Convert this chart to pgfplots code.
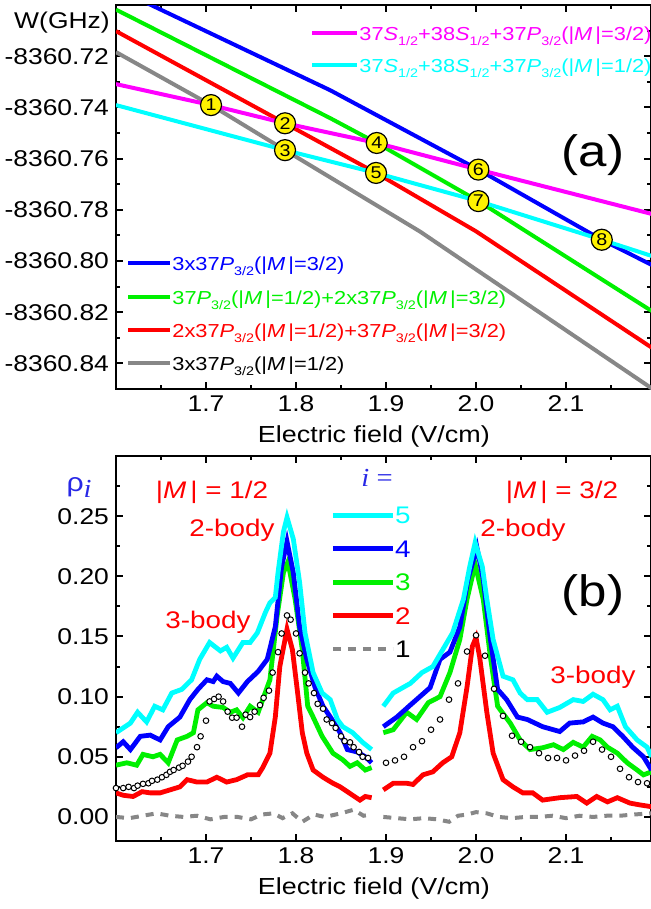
\documentclass[border=0pt]{standalone}
\usepackage{fontspec}
\setmainfont{Liberation Sans}[FakeStretch=1.16]
\newfontfamily\serif{Liberation Serif}[FakeStretch=1.1]
\usepackage{pgfplots}
\pgfplotsset{compat=1.18}

\definecolor{cMag}{RGB}{255,0,255}
\definecolor{cCya}{RGB}{0,255,255}
\definecolor{cBlu}{RGB}{0,0,255}
\definecolor{cGrn}{RGB}{0,240,0}
\definecolor{cRed}{RGB}{255,0,0}
\definecolor{cGry}{RGB}{135,135,135}
\definecolor{cLbl}{RGB}{40,40,230}

\newcommand\tfont{\fontsize{11.4bp}{13bp}\selectfont}
\newcommand\lfont{\fontsize{9.4bp}{12bp}\selectfont}
% small lowered subscript as in the original figure
\newcommand\sub[1]{\raisebox{-2.6bp}{\fontsize{6.2bp}{7bp}\selectfont #1}}

\pgfplotsset{
  panel/.style={
    scale only axis, width=267.5bp, height=192bp,
    xmin=1.6, xmax=2.1944,
    clip mode=individual,
    xtick={1.7,1.8,1.9,2.0,2.1},
    minor xtick={1.65,1.75,1.85,1.95,2.05,2.15},
    xticklabel style={/pgf/number format/.cd, fixed, fixed zerofill, precision=1},
    /pgf/number format/assume math mode=true,
    tick align=inside,
    major tick length=3.5bp, minor tick length=2bp,
    every tick/.style={black, line width=1bp},
    axis line style={line width=1.2bp},
    tick label style={font=\tfont},
    xlabel={Electric field (V/cm)},
    xlabel style={font=\fontsize{11.6bp}{13bp}\selectfont, at={(ticklabel cs:0.482)}},
    legend cell align=left,
  },
}

\begin{document}
\begin{tikzpicture}
% ---------- (a) energy levels, W given as W + 8360 GHz ----------
\begin{axis}[panel, at={(0,0)}, anchor=north west,
  ymin=-0.85, ymax=-0.70,
  ytick={-0.84,-0.82,-0.80,-0.78,-0.76,-0.74,-0.72},
  yticklabels={-8360.84,-8360.82,-8360.80,-8360.78,-8360.76,-8360.74,-8360.72},
  minor ytick={-0.83,-0.81,-0.79,-0.77,-0.75,-0.73,-0.71},
  reverse legend,
  legend image code/.code={\draw[#1] (0bp,0bp) -- (21bp,0bp);},
  legend style={at={(0.0187,0.3716)}, anchor=north west, draw=none, fill=none,
    inner sep=0pt, row sep=0pt, font=\lfont,
    nodes={inner sep=0pt, text height=12bp, text depth=4.67bp},
    /tikz/every even column/.append style={column sep=3.5bp}},
]
\addplot[cGry, line width=2bp] coordinates {
  (1.6,-0.7184) (1.7056,-0.7391) (1.7878,-0.7567) (1.9378,-0.7885) (2.195,-0.8497)};
\addlegendentry{\color{black}3x37\textit{P}\sub{3/2}(|\textit{M}\,|=1/2)}
\addplot[cRed, line width=2bp] coordinates {
  (1.6,-0.7102) (1.7878,-0.7462) (1.8889,-0.7656) (2.0,-0.7884) (2.195,-0.8338)};
\addlegendentry{\color{cRed}2x37\textit{P}\sub{3/2}(|\textit{M}\,|=1/2)+37\textit{P}\sub{3/2}(|\textit{M}\,|=3/2)}
\addplot[cGrn, line width=2bp] coordinates {
  (1.6,-0.7018) (1.838,-0.7442) (1.8897,-0.7539) (2.0026,-0.7766) (2.195,-0.8195)};
\addlegendentry{\color{cGrn}37\textit{P}\sub{3/2}(|\textit{M}\,|=1/2)+2x37\textit{P}\sub{3/2}(|\textit{M}\,|=3/2)}
\addplot[cBlu, line width=2bp] coordinates {
  (1.6,-0.6935) (1.838,-0.7333) (2.0026,-0.7643) (2.1397,-0.7917) (2.195,-0.8015)};
\addlegendentry{\color{cBlu}3x37\textit{P}\sub{3/2}(|\textit{M}\,|=3/2)}
\node[font=\fontsize{11.4bp}{13bp}\selectfont] at (rel axis cs:-0.101,0.953) {W(GHz)};
\node[font=\fontsize{22bp}{24bp}\selectfont] at (rel axis cs:0.8916,0.6094) {(a)};
\end{axis}

\begin{axis}[panel, at={(0,0)}, anchor=north west, hide axis,
  ymin=-0.85, ymax=-0.70,
  legend image code/.code={\draw[#1] (0bp,0bp) -- (22.5bp,0bp);},
  legend style={at={(0.3626,0.9688)}, anchor=north west, draw=none, fill=none,
    inner sep=0pt, row sep=0pt, font=\lfont,
    nodes={inner sep=0pt, text height=11.5bp, text depth=4.5bp},
    /tikz/every even column/.append style={column sep=3.5bp}},
]
\addplot[cMag, line width=2bp] coordinates {
  (1.6,-0.7309) (1.7056,-0.7391) (1.7878,-0.7462) (1.8897,-0.7539) (2.0026,-0.7643) (2.195,-0.7816)};
\addlegendentry{\color{cMag}37\textit{S}\sub{1/2}+38\textit{S}\sub{1/2}+37\textit{P}\sub{3/2}(|\textit{M}\,|=3/2)}
\addplot[cCya, line width=2bp] coordinates {
  (1.6,-0.7391) (1.7878,-0.7567) (1.8889,-0.7656) (2.0026,-0.7766) (2.1397,-0.7917) (2.195,-0.7980)};
\addlegendentry{\color{cCya}37\textit{S}\sub{1/2}+38\textit{S}\sub{1/2}+37\textit{P}\sub{3/2}(|\textit{M}\,|=1/2)}
% numbered crossings
\addplot[forget plot, only marks, mark=*, mark size=5.25bp,
  mark options={fill=yellow, draw=black, line width=0.6bp},
  nodes near coords, point meta=explicit symbolic,
  nodes near coords align={anchor=center},
  every node near coord/.append style={font=\fontsize{8.5bp}{9bp}\selectfont, inner sep=0pt, black}]
  table[row sep=\\, meta=n] {
  x y n \\
  1.7056 -0.7391 1 \\
  1.7878 -0.7462 2 \\
  1.7878 -0.7567 3 \\
  1.8897 -0.7539 4 \\
  1.8889 -0.7656 5 \\
  2.0026 -0.7643 6 \\
  2.0026 -0.7766 7 \\
  2.1397 -0.7917 8 \\
};
\end{axis}

% ---------- (b) populations ----------
\begin{axis}[panel, at={(0,-225.5bp)}, anchor=north west, height=192.5bp,
  ymin=-0.02, ymax=0.30,
  ytick={0,0.05,0.10,0.15,0.20,0.25},
  minor ytick={0.025,0.075,0.125,0.175,0.225,0.275},
  yticklabel style={/pgf/number format/.cd, fixed, fixed zerofill, precision=2},
  unbounded coords=jump,
  reverse legend,
  legend image code/.code={\draw[#1] (0bp,0bp) -- (30bp,0bp);},
  legend style={at={(0.4,0.8903)}, anchor=north west, draw=none, fill=none,
    inner sep=0pt, row sep=0pt, font=\fontsize{12bp}{13bp}\selectfont,
    nodes={inner sep=0pt, text height=12.5bp, text depth=4.25bp},
    /tikz/every even column/.append style={column sep=4bp}},
]
\addplot[cGry, line width=2bp, dash pattern=on 4bp off 3.5bp] coordinates {
  (1.600,0.000) (1.615,-0.001) (1.630,0.001) (1.645,0.003) (1.660,0.001) (1.675,0.000)
  (1.690,0.001) (1.705,-0.002) (1.720,0.000) (1.735,0.000) (1.750,-0.002) (1.762,0.002)
  (1.775,0.003) (1.785,-0.001) (1.796,0.003) (1.807,-0.004) (1.820,0.002) (1.832,0.000)
  (1.850,0.003) (1.864,0.006) (1.875,0.001) (1.884,0.002)
  (1.890,nan)
  (1.897,0.000) (1.912,-0.001) (1.927,-0.002) (1.942,-0.001) (1.957,-0.002) (1.970,-0.004)
  (1.980,0.001) (1.990,0.002) (2.000,0.004) (2.012,0.003) (2.025,0.000) (2.040,-0.001)
  (2.055,0.000) (2.070,0.000) (2.085,0.001) (2.100,-0.001) (2.115,0.001) (2.130,0.000)
  (2.145,0.001) (2.160,0.001) (2.175,0.002) (2.195,0.003)};
\addlegendentry{\color{black}1}
\addplot[cRed, line width=2.4bp] coordinates {
  (1.600,0.020) (1.608,0.018) (1.619,0.017) (1.629,0.021) (1.638,0.020) (1.649,0.020)
  (1.660,0.0225) (1.671,0.025) (1.679,0.031) (1.690,0.029) (1.701,0.029) (1.712,0.033)
  (1.723,0.029) (1.734,0.031) (1.746,0.035) (1.758,0.035) (1.763,0.041) (1.771,0.053)
  (1.777,0.083) (1.782,0.125) (1.790,0.156) (1.796,0.139) (1.801,0.108) (1.807,0.070)
  (1.812,0.053) (1.819,0.039) (1.830,0.033) (1.841,0.028) (1.849,0.025) (1.857,0.021)
  (1.863,0.018) (1.871,0.014) (1.877,0.017) (1.884,0.016)
  (1.890,nan)
  (1.897,0.0225) (1.908,0.028) (1.923,0.028) (1.930,0.027) (1.941,0.035) (1.952,0.0375)
  (1.963,0.045) (1.973,0.050) (1.982,0.070) (1.990,0.108) (1.996,0.142) (2.000,0.149)
  (2.004,0.133) (2.012,0.087) (2.019,0.053) (2.030,0.031) (2.041,0.025) (2.052,0.020)
  (2.063,0.020) (2.074,0.014) (2.093,0.016) (2.112,0.017) (2.123,0.0115) (2.134,0.017)
  (2.146,0.0125) (2.157,0.016) (2.171,0.0115) (2.182,0.010) (2.195,0.0085)};
\addlegendentry{\color{cRed}2}
\addplot[cGrn, line width=2.4bp] coordinates {
  (1.600,0.043) (1.612,0.045) (1.623,0.043) (1.630,0.052) (1.641,0.050) (1.649,0.052)
  (1.658,0.045) (1.668,0.064) (1.679,0.067) (1.686,0.070) (1.691,0.089) (1.701,0.095)
  (1.708,0.092) (1.719,0.091) (1.727,0.087) (1.734,0.089) (1.741,0.0825) (1.749,0.092)
  (1.758,0.087) (1.763,0.0975) (1.771,0.114) (1.779,0.167) (1.786,0.203) (1.791,0.212)
  (1.799,0.181) (1.807,0.139) (1.813,0.092) (1.819,0.083) (1.829,0.067) (1.841,0.053)
  (1.852,0.0475) (1.860,0.042) (1.868,0.045) (1.877,0.039) (1.884,0.041)
  (1.890,nan)
  (1.897,0.070) (1.908,0.0725) (1.923,0.087) (1.934,0.081) (1.947,0.095) (1.960,0.100)
  (1.971,0.120) (1.982,0.1475) (1.990,0.181) (1.999,0.210) (2.008,0.181) (2.016,0.133)
  (2.024,0.092) (2.038,0.078) (2.049,0.064) (2.060,0.056) (2.074,0.0575) (2.086,0.060)
  (2.097,0.056) (2.108,0.062) (2.119,0.058) (2.129,0.067) (2.138,0.064) (2.146,0.058)
  (2.157,0.053) (2.168,0.045) (2.179,0.039) (2.186,0.035) (2.195,0.0375)};
\addlegendentry{\color{cGrn}3}
\addplot[cBlu, line width=2.4bp] coordinates {
  (1.600,0.0575) (1.608,0.0625) (1.616,0.056) (1.627,0.067) (1.638,0.068) (1.649,0.064)
  (1.658,0.075) (1.671,0.083) (1.682,0.0975) (1.691,0.106) (1.701,0.114) (1.708,0.1125)
  (1.712,0.117) (1.719,0.1125) (1.727,0.111) (1.736,0.103) (1.746,0.1125) (1.758,0.121)
  (1.768,0.131) (1.777,0.158) (1.784,0.208) (1.790,0.229) (1.797,0.203) (1.804,0.158)
  (1.812,0.131) (1.821,0.108) (1.830,0.092) (1.840,0.081) (1.849,0.070) (1.857,0.056)
  (1.868,0.054) (1.877,0.050) (1.884,0.045)
  (1.890,nan)
  (1.897,0.075) (1.912,0.083) (1.927,0.093) (1.949,0.1075) (1.960,0.131) (1.971,0.137)
  (1.982,0.158) (1.991,0.1975) (2.001,0.224) (2.008,0.1975) (2.016,0.1475) (2.024,0.106)
  (2.034,0.0975) (2.046,0.083) (2.057,0.081) (2.074,0.075) (2.093,0.071) (2.104,0.078)
  (2.119,0.079) (2.130,0.083) (2.141,0.078) (2.152,0.075) (2.163,0.067) (2.174,0.058)
  (2.186,0.050) (2.195,0.039)};
\addlegendentry{\color{cBlu}4}
\addplot[cCya, line width=2.4bp] coordinates {
  (1.600,0.070) (1.616,0.078) (1.624,0.087) (1.634,0.079) (1.643,0.092) (1.652,0.089)
  (1.662,0.103) (1.673,0.106) (1.684,0.114) (1.693,0.131) (1.704,0.145) (1.716,0.138)
  (1.723,0.141) (1.730,0.132) (1.741,0.145) (1.749,0.145) (1.757,0.153) (1.766,0.170)
  (1.771,0.178) (1.777,0.1825) (1.780,0.203) (1.786,0.237) (1.790,0.249) (1.797,0.231)
  (1.804,0.195) (1.810,0.153) (1.819,0.120) (1.829,0.103) (1.838,0.0975) (1.846,0.081)
  (1.852,0.075) (1.863,0.070) (1.874,0.062) (1.884,0.056)
  (1.890,nan)
  (1.897,0.092) (1.908,0.103) (1.927,0.111) (1.940,0.120) (1.952,0.125) (1.963,0.139)
  (1.974,0.153) (1.986,0.181) (1.993,0.208) (1.999,0.228) (2.007,0.208) (2.012,0.181)
  (2.019,0.1475) (2.030,0.117) (2.041,0.114) (2.049,0.103) (2.057,0.0975) (2.068,0.0975)
  (2.079,0.087) (2.093,0.091) (2.108,0.0975) (2.119,0.096) (2.130,0.102) (2.141,0.0975)
  (2.149,0.089) (2.157,0.092) (2.166,0.075) (2.179,0.064) (2.190,0.058) (2.195,0.050)};
\addlegendentry{\color{cCya}5}
\addplot[forget plot, only marks, mark=*, mark size=1.4bp,
  mark options={fill=white, draw=black, line width=0.5bp}] coordinates {
  (1.600,0.024) (1.608,0.024) (1.614,0.025) (1.620,0.024) (1.624,0.026) (1.630,0.0275)
  (1.636,0.028) (1.640,0.030) (1.646,0.031) (1.651,0.033) (1.656,0.035) (1.660,0.0375)
  (1.664,0.039) (1.670,0.041) (1.674,0.0425) (1.680,0.046) (1.684,0.050) (1.690,0.058)
  (1.694,0.067) (1.700,0.080) (1.704,0.096) (1.709,0.098) (1.714,0.100) (1.719,0.096)
  (1.724,0.0875) (1.729,0.0825) (1.734,0.0825) (1.740,0.075) (1.744,0.085) (1.749,0.083)
  (1.754,0.0875) (1.760,0.093) (1.764,0.099) (1.770,0.105) (1.774,0.120) (1.780,0.137)
  (1.784,0.1525) (1.790,0.1675) (1.794,0.164) (1.800,0.1525) (1.804,0.136) (1.810,0.120)
  (1.814,0.111) (1.820,0.103) (1.824,0.094) (1.830,0.090) (1.834,0.081) (1.840,0.078)
  (1.844,0.074) (1.850,0.067) (1.854,0.063) (1.860,0.062) (1.864,0.058) (1.870,0.054)
  (1.874,0.050) (1.880,0.049)
  (1.90,0.045) (1.91,0.047) (1.92,0.050) (1.93,0.058) (1.94,0.063) (1.95,0.0725)
  (1.96,0.081) (1.97,0.0975) (1.98,0.111) (1.99,0.1375) (2.00,0.151) (2.01,0.134)
  (2.02,0.1065) (2.03,0.084) (2.04,0.0675) (2.05,0.0625) (2.06,0.058) (2.07,0.053)
  (2.08,0.049) (2.09,0.049) (2.10,0.047) (2.11,0.051) (2.12,0.055) (2.13,0.0625)
  (2.14,0.056) (2.15,0.050) (2.16,0.040) (2.17,0.033) (2.18,0.029) (2.19,0.028)};
\node[cLbl, font=\fontsize{13bp}{14bp}\selectfont] at (rel axis cs:-0.069,0.919)
  {ρ\raisebox{-3bp}{\serif\itshape i}};
\node[cLbl, font=\fontsize{13bp}{14bp}\selectfont] at (rel axis cs:0.4879,0.943)
  {\serif\itshape i \upshape =};
\node[cRed, font=\fontsize{12bp}{13bp}\selectfont] at (rel axis cs:0.1794,0.9065)
  {|\textit{M}\,| = 1/2};
\node[cRed, font=\fontsize{12bp}{13bp}\selectfont] at (rel axis cs:0.8336,0.9065)
  {|\textit{M}\,| = 3/2};
\node[cRed, font=\fontsize{12bp}{13bp}\selectfont] at (rel axis cs:0.2168,0.8078) {2-body};
\node[cRed, font=\fontsize{12bp}{13bp}\selectfont] at (rel axis cs:0.7607,0.8078) {2-body};
\node[cRed, font=\fontsize{12bp}{13bp}\selectfont] at (rel axis cs:0.172,0.5688) {3-body};
\node[cRed, font=\fontsize{12bp}{13bp}\selectfont] at (rel axis cs:0.8916,0.426) {3-body};
\node[font=\fontsize{22bp}{24bp}\selectfont] at (rel axis cs:0.8916,0.639) {(b)};
\end{axis}
\pgfresetboundingbox
\path (-58bp,2.5bp) rectangle (267.5bp,-452bp);
\end{tikzpicture}
\end{document}
